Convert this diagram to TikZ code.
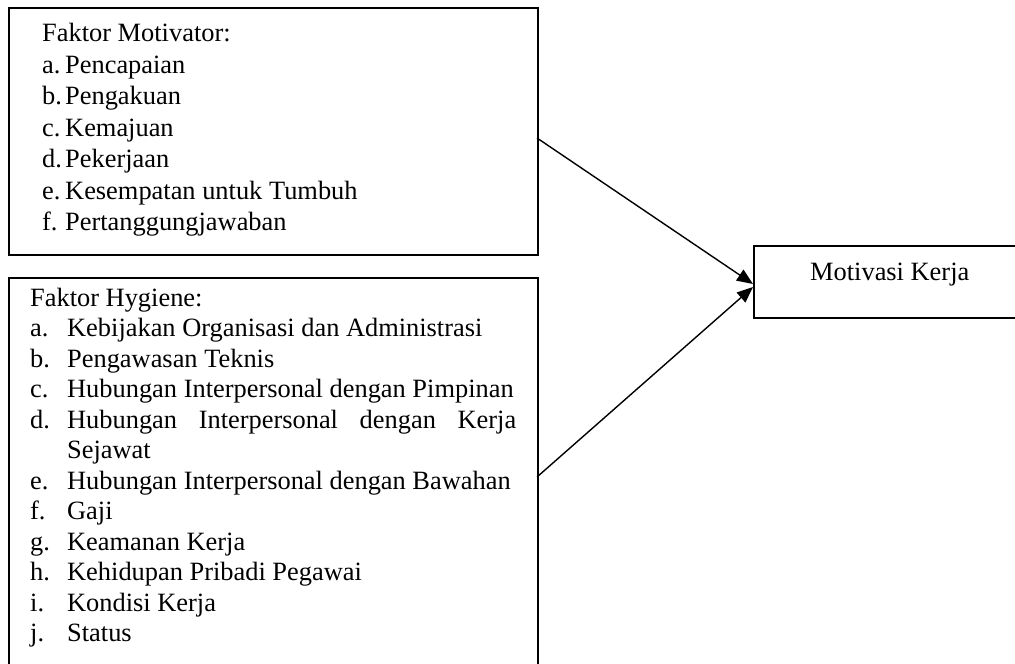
\documentclass[tikz,border=0pt]{standalone}
\usepackage{fontspec}
\setmainfont{Liberation Serif}
\usetikzlibrary{arrows.meta}
\newcommand{\lblA}[2]{\makebox[23pt][l]{#1}#2}
\newcommand{\lblB}[2]{\makebox[37pt][l]{#1}#2}
\begin{document}
\begin{tikzpicture}[x=1pt,y=-1pt,
  frame/.style={draw,line width=1.6pt,rectangle,inner sep=0pt,anchor=north west},
  txt/.style={anchor=base west,inner sep=0pt,font=\fontsize{26.4}{30}\selectfont},
  conn/.style={line width=1.4pt,-{Triangle[length=16pt,width=13pt]}}]
\useasboundingbox (0,0) rectangle (1015,664);
\clip (0,0) rectangle (1015,664);
% boxes
\node[frame,minimum width=529pt,minimum height=247pt] (motbox) at (8,7) {};
\node[frame,minimum width=529pt,minimum height=410pt] (hygbox) at (8,277) {};
\node[frame,minimum width=290pt,minimum height=72pt] (kerja) at (753,245) {};
% motivator text
\node[txt] (m0) at (42,41.5) {Faktor Motivator:};
\node[txt] (m1) at (42,73) {\lblA{a.}{Pencapaian}};
\node[txt] (m2) at (42,104.5) {\lblA{b.}{Pengakuan}};
\node[txt] (m3) at (42,136) {\lblA{c.}{Kemajuan}};
\node[txt] (m4) at (42,167.5) {\lblA{d.}{Pekerjaan}};
\node[txt] (m5) at (42,199) {\lblA{e.}{Kesempatan untuk Tumbuh}};
\node[txt] (m6) at (42,230.5) {\lblA{f.}{Pertanggungjawaban}};
% hygiene text
\node[txt] (h0) at (30,306) {Faktor Hygiene:};
\node[txt] (h1) at (30,336.5) {\lblB{a.}{Kebijakan Organisasi dan Administrasi}};
\node[txt] (h2) at (30,367) {\lblB{b.}{Pengawasan Teknis}};
\node[txt] (h3) at (30,397.5) {\lblB{c.}{Hubungan Interpersonal dengan Pimpinan}};
\node[txt] (h4) at (30,428) {\lblB{d.}{\makebox[449pt][s]{Hubungan Interpersonal dengan Kerja}}};
\node[txt] (h5) at (30,458.5) {\lblB{}{Sejawat}};
\node[txt] (h6) at (30,489) {\lblB{e.}{Hubungan Interpersonal dengan Bawahan}};
\node[txt] (h7) at (30,519.5) {\lblB{f.}{Gaji}};
\node[txt] (h8) at (30,550) {\lblB{g.}{Keamanan Kerja}};
\node[txt] (h9) at (30,580.5) {\lblB{h.}{Kehidupan Pribadi Pegawai}};
\node[txt] (h10) at (30,611) {\lblB{i.}{Kondisi Kerja}};
\node[txt] (h11) at (30,641.5) {\lblB{j.}{Status}};
% result text
\node[txt] (k0) at (810,280) {Motivasi Kerja};
% connectors
\coordinate (s1) at (537,138);
\coordinate (s2) at (537,477);
\coordinate (t1) at (753,284);
\coordinate (t2) at (753,287);
\draw[conn] (s1) -- (t1);
\draw[conn] (s2) -- (t2);
\end{tikzpicture}
\end{document}
